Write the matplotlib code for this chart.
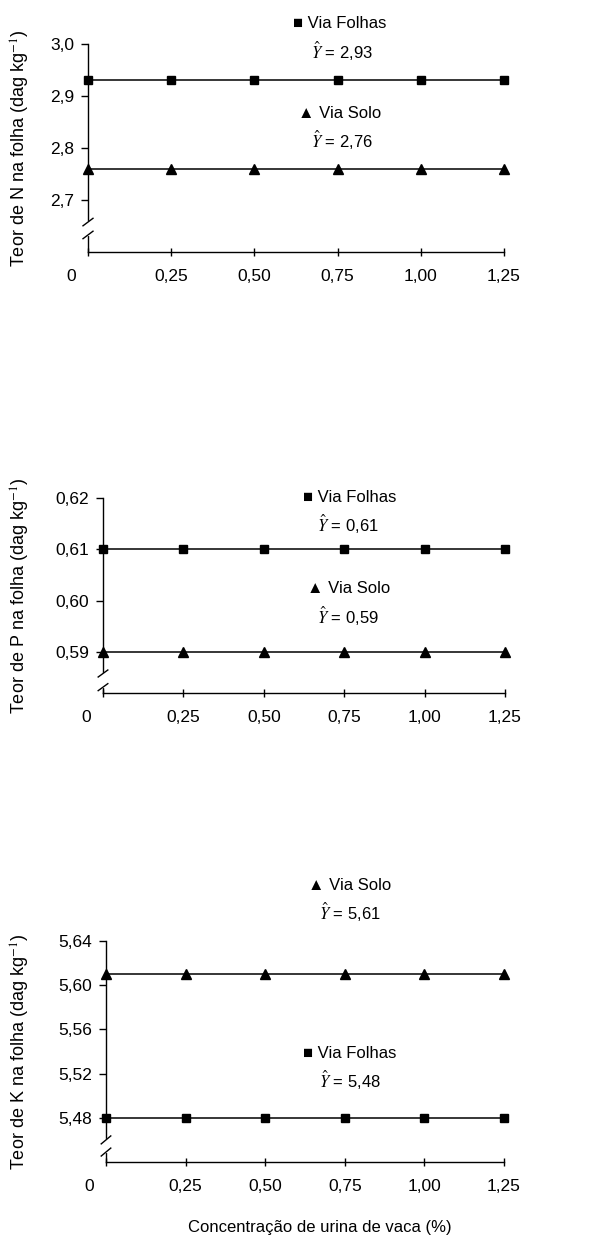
import matplotlib
matplotlib.use("Agg")
import matplotlib.pyplot as plt
import matplotlib.transforms as mtransforms

plt.rcParams['font.family'] = ['Liberation Sans', 'DejaVu Sans']
plt.rcParams['mathtext.fontset'] = 'stix'

# data
conc = [0, 0.25, 0.50, 0.75, 1.00, 1.25]
conc_labels = ['0', '0,25', '0,50', '0,75', '1,00', '1,25']

n_folhas = [2.93] * 6
n_solo = [2.76] * 6
p_folhas = [0.61] * 6
p_solo = [0.59] * 6
k_folhas = [5.48] * 6
k_solo = [5.61] * 6

n_ticks = [2.7, 2.8, 2.9, 3.0]
n_tick_labels = ['2,7', '2,8', '2,9', '3,0']
p_ticks = [0.59, 0.60, 0.61, 0.62]
p_tick_labels = ['0,59', '0,60', '0,61', '0,62']
k_ticks = [5.48, 5.52, 5.56, 5.60, 5.64]
k_tick_labels = ['5,48', '5,52', '5,56', '5,60', '5,64']

W, H = 605, 1236
fig = plt.figure(figsize=(W / 100, H / 100), dpi=100)

tick_font = ['Liberation Sans Narrow', 'Liberation Sans', 'DejaVu Sans']


def make_panel(rect, folhas, solo, ylim, yticks, ylabels, nutrient,
               txt_pos, ylab_x, breaks):
    ax = fig.add_axes(rect)
    ax.plot(conc, folhas, color='black', lw=1.1, marker='s', ms=5.5,
            clip_on=False, zorder=3)
    ax.plot(conc, solo, color='black', lw=1.1, marker='^', ms=6.5,
            clip_on=False, zorder=3)
    ax.set_xlim(0, 1.25)
    ax.set_ylim(*ylim)
    ax.spines['top'].set_visible(False)
    ax.spines['right'].set_visible(False)
    for s in ['left', 'bottom']:
        ax.spines[s].set_linewidth(1.0)
    ax.set_xticks(conc)
    ax.set_xticklabels(conc_labels, family=tick_font, fontsize=12.5)
    ax.set_yticks(yticks)
    ax.set_yticklabels(ylabels, family=tick_font, fontsize=12.5)
    ax.tick_params(axis='x', direction='inout', length=6, width=1, pad=9)
    ax.tick_params(axis='y', direction='out', length=5, width=1, pad=5)
    # first x label sits left of the axis, as in the original
    lab0 = ax.get_xticklabels()[0]
    lab0.set_transform(lab0.get_transform() +
                       mtransforms.ScaledTranslation(-0.17, 0, fig.dpi_scale_trans))
    ax.set_ylabel('Teor de %s na folha (dag kg$^{-1}$)' % nutrient, fontsize=13)
    ax.yaxis.set_label_coords(ylab_x, 0.5)

    # axis break marks
    for yb in breaks:
        ax.plot([-0.012, 0.012], [yb - 0.018, yb + 0.018], color='black',
                lw=1.0, transform=ax.transAxes, clip_on=False, zorder=5)
    ax.plot([0, 0], [min(breaks) + 0.006, max(breaks) - 0.006], color='white',
            lw=3, transform=ax.transAxes, clip_on=False, zorder=4)

    for (x, y, s) in txt_pos:
        ax.text(x, y, s, transform=ax.transAxes, ha='center', va='center',
                fontsize=12)
    return ax


def rect_from_px(left, right, top, bottom):
    return [left / W, 1 - bottom / H, (right - left) / W, (bottom - top) / H]


make_panel(rect_from_px(88, 504, 44, 252), n_folhas, n_solo, (2.6, 3.0),
           n_ticks, n_tick_labels, 'N',
           [(0.606, 1.10, '■ Via Folhas'),
            (0.61, 0.966, r'$\hat{Y}$ = 2,93'),
            (0.606, 0.668, '▲ Via Solo'),
            (0.61, 0.534, r'$\hat{Y}$ = 2,76')],
           -0.135, [0.144, 0.082])

make_panel(rect_from_px(103, 505, 498, 693), p_folhas, p_solo, (0.582, 0.62),
           p_ticks, p_tick_labels, 'P',
           [(0.614, 1.0, '■ Via Folhas'),
            (0.61, 0.862, r'$\hat{Y}$ = 0,61'),
            (0.61, 0.538, '▲ Via Solo'),
            (0.61, 0.39, r'$\hat{Y}$ = 0,59')],
           -0.177, [0.10, 0.03])

ax3 = make_panel(rect_from_px(106, 504, 941, 1162), k_folhas, k_solo, (5.44, 5.64),
                 k_ticks, k_tick_labels, 'K',
                 [(0.613, 1.253, '▲ Via Solo'),
                  (0.613, 1.131, r'$\hat{Y}$ = 5,61'),
                  (0.613, 0.493, '■ Via Folhas'),
                  (0.613, 0.371, r'$\hat{Y}$ = 5,48')],
                 -0.186, [0.10, 0.045])
ax3.set_xlabel('Concentração de urina de vaca (%)', fontsize=12)
ax3.xaxis.set_label_coords(0.538, -0.262)

fig.savefig('out.png', dpi=100)
